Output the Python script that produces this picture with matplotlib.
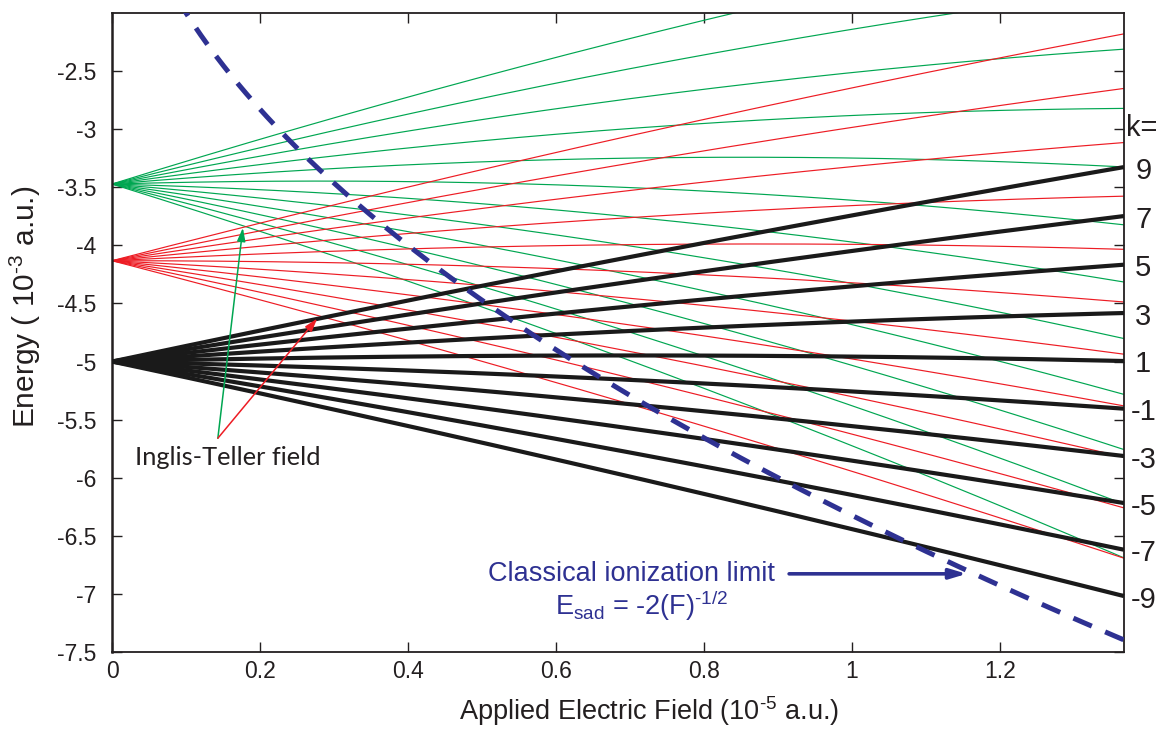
import matplotlib

matplotlib.use("Agg")

import matplotlib.pyplot as plt
import matplotlib.transforms as mtransforms
import numpy as np

plt.rcParams["font.family"] = ["Liberation Sans", "DejaVu Sans"]
plt.rcParams["axes.unicode_minus"] = False
plt.rcParams["mathtext.fontset"] = "custom"
plt.rcParams["mathtext.rm"] = "Liberation Sans"
plt.rcParams["mathtext.default"] = "rm"

# hydrogen Stark manifolds (m = 0): principal quantum number and parabolic k
N_LOW = 10
K_LOW = [9, 7, 5, 3, 1, -1, -3, -5, -7, -9]
N_MID = 11
K_MID = [10, 8, 6, 4, 2, 0, -2, -4, -6, -8, -10]
N_HIGH = 12
K_HIGH = [11, 9, 7, 5, 3, 1, -1, -3, -5, -7, -9, -11]

F_MAX = 1.3675          # field axis limit, units of 1e-5 a.u.
Y_TICKS = [-7.5, -7, -6.5, -6, -5.5, -5, -4.5, -4, -3.5, -3, -2.5]
X_TICKS = [0, 0.2, 0.4, 0.6, 0.8, 1, 1.2]

GREEN = "#00a651"
RED = "#ed1c24"
BLUE = "#2e3192"
INK = "#231f20"

field = np.linspace(0.0, F_MAX, 400)


def stark_energy(n, k, f):
    """Energy in 1e-3 a.u. for field f in 1e-5 a.u., up to second order."""
    F = f * 1e-5
    e0 = -1.0 / (2 * n**2)
    e1 = 1.5 * n * k * F
    e2 = -(n**4) / 16.0 * (17 * n**2 - 3 * k**2 + 19) * F**2
    return (e0 + e1 + e2) * 1e3


def saddle_energy(f):
    return -2.0 * np.sqrt(f * 1e-5) * 1e3


def crossing(n_a, k_a, n_b, k_b):
    diff = stark_energy(n_a, k_a, field) - stark_energy(n_b, k_b, field)
    i = np.where(np.diff(np.sign(diff)) != 0)[0][0]
    f = field[i] - diff[i] * (field[i + 1] - field[i]) / (diff[i + 1] - diff[i])
    return f, stark_energy(n_a, k_a, f)


fig = plt.figure(figsize=(11.73, 7.29), dpi=100)
ax = fig.add_axes([0.0955, 0.1056, 0.8627, 0.8766])

for k in K_HIGH:
    ax.plot(field, stark_energy(N_HIGH, k, field), color=GREEN, lw=0.85, zorder=2)
for k in K_MID:
    ax.plot(field, stark_energy(N_MID, k, field), color=RED, lw=0.85, zorder=2)
for k in K_LOW:
    ax.plot(field, stark_energy(N_LOW, k, field), color="#1a1a1a", lw=3.0,
            solid_capstyle="butt", zorder=3)

f_sad = field[field > 0]
ax.plot(f_sad, saddle_energy(f_sad), color=BLUE, lw=3.6, dashes=(4, 2.9),
        zorder=4)

# k labels to the right of the frame
label_tf = mtransforms.blended_transform_factory(ax.transAxes, ax.transData)
for k in K_LOW:
    ax.text(1.019, stark_energy(N_LOW, k, F_MAX) - 0.03, f"{k}", transform=label_tf,
            ha="center", va="center", fontsize=21, color=INK, clip_on=False)
ax.text(1.018, stark_energy(N_LOW, K_LOW[0], F_MAX) + 0.34, "k=", transform=label_tf,
        ha="center", va="center", fontsize=21, color=INK, clip_on=False)

# Inglis-Teller field: first crossings of adjacent manifolds
it_green = crossing(N_MID, K_MID[0], N_HIGH, K_HIGH[-1])
it_red = crossing(N_LOW, K_LOW[0], N_MID, K_MID[-1])
tail = (0.143, -5.66)
ax.annotate("", xy=(it_green[0] - 0.004, it_green[1] - 0.01), xytext=tail,
            arrowprops=dict(arrowstyle="-|>,head_length=0.8,head_width=0.25",
                            color=GREEN, lw=1.1, shrinkA=0, shrinkB=0), zorder=5)
ax.annotate("", xy=(it_red[0] - 0.01, it_red[1] - 0.01), xytext=tail,
            arrowprops=dict(arrowstyle="-|>,head_length=0.8,head_width=0.25",
                            color=RED, lw=1.1, shrinkA=0, shrinkB=0), zorder=5)
ax.text(0.031, -5.83, "Inglis-Teller field", fontsize=18.3, color=INK,
        family=["Lato", "DejaVu Sans"], ha="left", va="center")

# classical ionization limit
f_tip = 1.155
ax.annotate("", xy=(f_tip, saddle_energy(f_tip) - 0.03), xytext=(0.915, saddle_energy(f_tip) - 0.03),
            arrowprops=dict(arrowstyle="-|>,head_length=1.0,head_width=0.3",
                            color=BLUE, lw=2.6, shrinkA=0, shrinkB=0), zorder=5)
ax.text(0.508, saddle_energy(f_tip) - 0.03, "Classical ionization limit", fontsize=19.5,
        color=BLUE, ha="left", va="center")
ax.text(0.598, -7.1, r"E$_{\mathrm{sad}}$ = -2(F)$^{\text{-1/2}}$", fontsize=19.5,
        color=BLUE, ha="left", va="center")

ax.set_xlim(0, F_MAX)
ax.set_ylim(-7.5, -2.0)
ax.set_xticks(X_TICKS)
ax.set_yticks(Y_TICKS)
ax.set_xticklabels([f"{v:g}" for v in X_TICKS])
ax.set_yticklabels([f"{v:g}" for v in Y_TICKS])
ax.tick_params(direction="in", length=7, width=1.0, colors=INK, labelsize=16.5,
               top=True, right=True, pad=6)
ax.tick_params(axis="y", pad=11)
for side in ["top", "right", "bottom", "left"]:
    ax.spines[side].set_color(INK)
    ax.spines[side].set_linewidth(1.3)
ax.spines["left"].set_linewidth(1.8)

ax.set_xlabel(r"Applied Electric Field (10$^{\text{-5}}$ a.u.)", fontsize=19.5, color=INK)
ax.set_ylabel(r"Energy ( 10$^{\text{-3}}$ a.u.)", fontsize=21.5, color=INK)
ax.xaxis.set_label_coords(0.531, -0.066)
ax.yaxis.set_label_coords(-0.068, 0.54)

fig.savefig("out.png", dpi=100)
